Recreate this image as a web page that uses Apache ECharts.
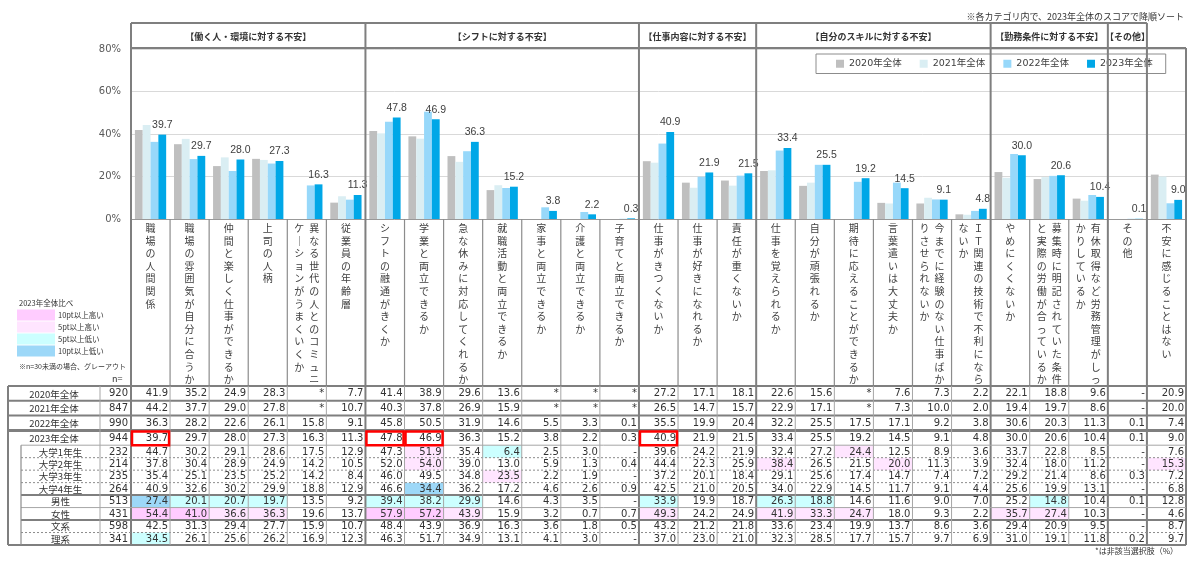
<!DOCTYPE html>
<html><head><meta charset="utf-8">
<script src="https://cdn.jsdelivr.net/npm/echarts@6/dist/echarts.min.js"></script>
<style>html,body{margin:0;padding:0;background:#fff}#c{width:1200px;height:564px}</style>
</head><body><div id="c"></div><script>
// ---------- data ----------
const categories = ['職場の人間関係','職場の雰囲気が自分に合うか','仲間と楽しく仕事ができるか','上司の人柄','異なる世代の人とのコミュニケーションがうまくいくか','従業員の年齢層','シフトの融通がきくか','学業と両立できるか','急な休みに対応してくれるか','就職活動と両立できるか','家事と両立できるか','介護と両立できるか','子育てと両立できるか','仕事がきつくないか','仕事が好きになれるか','責任が重くないか','仕事を覚えられるか','自分が頑張れるか','期待に応えることができるか','言葉遣いは大丈夫か','今までに経験のない仕事ばかりさせられないか','ＩＴ関連の技術で不利にならないか','やめにくくないか','募集時に明記されていた条件と実際の労働が合っているか','有休取得など労務管理がしっかりしているか','その他','不安に感じることはない'];
const groupNames = ['【働く人・環境に対する不安】','【シフトに対する不安】','【仕事内容に対する不安】','【自分のスキルに対する不安】','【勤務条件に対する不安】','【その他】'];
const groupSizes = [6,7,3,6,3,1];
const seriesNames = ['2020年全体','2021年全体','2022年全体','2023年全体'];
const yTicks = [0,20,40,60,80];

const v2020 = ['41.9','35.2','24.9','28.3','*','7.7','41.4','38.9','29.6','13.6','*','*','*','27.2','17.1','18.1','22.6','15.6','*','7.6','7.3','2.2','22.1','18.8','9.6','-','20.9'];
const v2021 = ['44.2','37.7','29.0','27.8','*','10.7','40.3','37.8','26.9','15.9','*','*','*','26.5','14.7','15.7','22.9','17.1','*','7.3','10.0','2.0','19.4','19.7','8.6','-','20.0'];
const v2022 = ['36.3','28.2','22.6','26.1','15.8','9.1','45.8','50.5','31.9','14.6','5.5','3.3','0.1','35.5','19.9','20.4','32.2','25.5','17.5','17.1','9.2','3.8','30.6','20.3','11.3','0.1','7.4'];
const v2023 = ['39.7','29.7','28.0','27.3','16.3','11.3','47.8','46.9','36.3','15.2','3.8','2.2','0.3','40.9','21.9','21.5','33.4','25.5','19.2','14.5','9.1','4.8','30.0','20.6','10.4','0.1','9.0'];
const vY1 = ['44.7','30.2','29.1','28.6','17.5','12.9','47.3','51.9','35.4','6.4','2.5','3.0','-','39.6','24.2','21.9','32.4','27.2','24.4','12.5','8.9','3.6','33.7','22.8','8.5','-','7.6'];
const vY2 = ['37.8','30.4','28.9','24.9','14.2','10.5','52.0','54.0','39.0','13.0','5.9','1.3','0.4','44.4','22.3','25.9','38.4','26.5','21.5','20.0','11.3','3.9','32.4','18.0','11.2','-','15.3'];
const vY3 = ['35.4','25.1','23.5','25.2','14.2','8.4','46.0','49.5','34.8','23.5','2.2','1.9','-','37.2','20.1','18.4','29.1','25.6','17.4','14.7','7.4','7.2','29.2','21.4','8.6','0.3','7.2'];
const vY4 = ['40.9','32.6','30.2','29.9','18.8','12.9','46.6','34.4','36.2','17.2','4.6','2.6','0.9','42.5','21.0','20.5','34.0','22.9','14.5','11.7','9.1','4.4','25.6','19.9','13.1','-','6.8'];
const vMale = ['27.4','20.1','20.7','19.7','13.5','9.2','39.4','38.2','29.9','14.6','4.3','3.5','-','33.9','19.9','18.7','26.3','18.8','14.6','11.6','9.0','7.0','25.2','14.8','10.4','0.1','12.8'];
const vFemale = ['54.4','41.0','36.6','36.3','19.6','13.7','57.9','57.2','43.9','15.9','3.2','0.7','0.7','49.3','24.2','24.9','41.9','33.3','24.7','18.0','9.3','2.2','35.7','27.4','10.3','-','4.6'];
const vBun = ['42.5','31.3','29.4','27.7','15.9','10.7','48.4','43.9','36.9','16.3','3.6','1.8','0.5','43.2','21.2','21.8','33.6','23.4','19.9','13.7','8.6','3.6','29.4','20.9','9.5','-','8.7'];
const vRi = ['34.5','26.1','25.6','26.2','16.9','12.3','46.3','51.7','34.9','13.1','4.1','3.0','-','37.0','23.0','21.0','32.3','28.5','17.7','15.7','9.7','6.9','31.0','19.1','11.8','0.2','9.7'];

const rowLabels = ['2020年全体','2021年全体','2022年全体','2023年全体','大学1年生','大学2年生','大学3年生','大学4年生','男性','女性','文系','理系'];
const rowN = [920,847,990,944,232,214,235,264,513,431,598,341];
const rowValues = [v2020,v2021,v2022,v2023,vY1,vY2,vY3,vY4,vMale,vFemale,vBun,vRi];
// [row, column, level]  level: 2=10pt以上高い 1=5pt以上高い -1=5pt以上低い -2=10pt以上低い
const highlights = [
 [4,7,1],[4,9,-1],[4,18,1],
 [5,7,1],[5,16,1],[5,19,1],[5,26,1],
 [6,9,1],
 [7,7,-2],
 [8,0,-2],[8,1,-1],[8,2,-1],[8,3,-1],[8,6,-1],[8,7,-1],[8,8,-1],[8,13,-1],[8,16,-1],[8,17,-1],[8,23,-1],
 [9,0,2],[9,1,2],[9,2,1],[9,3,1],[9,6,2],[9,7,2],[9,8,1],[9,13,1],[9,16,1],[9,17,1],[9,18,1],[9,22,1],[9,23,1],
 [11,0,-1]
];
const redBoxRow = 3;
const redBoxCols = [0,6,7,13];

// ---------- layout / style ----------
const Y = {headerTop:23, plotTop:49, plotBottom:219, tableTop:386, tableBottom:545};
const GL = 131, GR = 14;
const barColors = ['#BFBFBF','#DAEEF3','#97D8FA','#00A7E7'];
const hiColors = {'2':'#FFCCFF','1':'#FFE5FF','-1':'#CCFFFF','-2':'#9DD8F8'};
const JP = '"Noto Sans CJK JP"';
const NUM = '"DejaVu Sans"';
const toNum = a => a.map(s => isNaN(parseFloat(s)) ? null : parseFloat(s));

const rowH = rowLabels.map((_, i) => i < 4 ? 14.8 : 12.475);
const rowEdges = [0];
rowH.forEach(h => rowEdges.push(rowEdges[rowEdges.length-1] + h));
const tableTotal = rowEdges[rowEdges.length-1];

const bounds = [0];
groupSizes.forEach(s => bounds.push(bounds[bounds.length-1] + s));

function vLabel(val) {
  const s = Array.from(val).map(ch => ch === 'ー' ? '｜' : ch);
  if (s.length <= 13) return s.join('\n');
  const a = s.slice(0, 13), b = s.slice(13);
  return a.map((ch, i) => (b[i] || '　') + '\u2002' + ch).join('\n');
}

const thickSt = {stroke:'#7F7F7F', lineWidth:2};
const thinSt = {stroke:'#A6A6A6', lineWidth:1};
const midSt = {stroke:'#8C8C8C', lineWidth:1.2};
function ln(x1,y1,x2,y2,st){ return {type:'line', shape:{x1,y1,x2,y2}, style:Object.assign({fill:null}, st), silent:true}; }

function renderFrame(params, api) {
  const w = api.size([1, 0])[0];
  const L = i => api.coord([i, 0])[0] - w / 2;
  const els = [];
  const xr = L(27);
  els.push(ln(L(0), Y.headerTop, L(bounds[bounds.length-1]), Y.headerTop, thickSt));
  els.push(ln(L(0), Y.plotTop - 1, xr, Y.plotTop - 1, thickSt));
  bounds.forEach(b => els.push(ln(L(b), Y.headerTop, L(b), Y.tableBottom, thickSt)));
  els.push(ln(xr, Y.plotTop - 1, xr, Y.tableBottom, thickSt));
  for (let i = 1; i < 27; i++) {
    if (bounds.indexOf(i) >= 0) continue;
    els.push(ln(L(i), Y.plotBottom, L(i), Y.tableTop, midSt));
  }
  groupNames.forEach((g, k) => {
    els.push({type:'text', silent:true, style:{text:g, x:(L(bounds[k]) + L(bounds[k+1]))/2, y:(Y.headerTop + Y.plotTop)/2 + 1,
      align:'center', verticalAlign:'middle', font:'bold 9px ' + JP, fill:'#333'}});
  });
  return {type:'group', children:els};
}

function renderRow(params, api) {
  const r = params.dataIndex;
  const w = api.size([1, 0])[0];
  const L = i => api.coord([i, 0])[0] - w / 2;
  const yT = api.coord([0, rowEdges[r]])[1], yB = api.coord([0, rowEdges[r+1]])[1];
  const yc = (yT + yB) / 2 + 0.5;
  const x0 = L(0);
  const els = [];
  highlights.filter(h => h[0] === r).forEach(h => {
    els.push({type:'rect', silent:true, shape:{x:L(h[1]), y:yT, width:w, height:yB - yT}, style:{fill:hiColors[String(h[2])]}});
  });
  rowValues[r].forEach((s, c) => {
    els.push({type:'text', silent:true, style:{text:s, x:L(c+1) - 2, y:yc, align:'right', verticalAlign:'middle', font:'10px ' + NUM, fill:'#333'}});
  });
  const lx0 = r < 4 ? x0 - 123 : x0 - 110, lx1 = x0 - 31;
  els.push({type:'text', silent:true, style:{text:rowLabels[r], x:(lx0 + lx1)/2, y:yc, align:'center', verticalAlign:'middle', font:'9.5px ' + JP, fill:'#333'}});
  els.push({type:'text', silent:true, style:{text:String(rowN[r]), x:x0 - 3, y:yc, align:'right', verticalAlign:'middle', font:'10px ' + NUM, fill:'#333'}});
  return {type:'group', children:els};
}

function renderTableFrame(params, api) {
  const w = api.size([1, 0])[0];
  const L = i => api.coord([i, 0])[0] - w / 2;
  const Yr = k => api.coord([0, rowEdges[k]])[1];
  const x0 = L(0), xr = L(27);
  const xO = x0 - 123, xS = x0 - 110, xN = x0 - 31;
  const els = [];
  const dotted = {stroke:'#8C8C8C', lineWidth:1, lineDash:[2,2]};
  const hStyles = ['T','T','T','D3','t','d','d','d','T','t','T','d','T'];
  hStyles.forEach((t, k) => {
    const y = Yr(k);
    const xs = (k <= 3 || k === 12) ? xO : xS;
    let st = thickSt;
    if (t === 'D3') st = {stroke:'#7F7F7F', lineWidth:3};
    if (t === 't') st = thinSt;
    if (t === 'd') st = dotted;
    els.push(ln(xs, y, xr, y, st));
  });
  els.push(ln(xO, Yr(0), xO, Yr(12), thickSt));
  els.push(ln(xS, Yr(4), xS, Yr(12), midSt));
  els.push(ln(xN, Yr(0), xN, Yr(12), thinSt));
  for (let i = 1; i < 27; i++) {
    if (bounds.indexOf(i) >= 0) continue;
    els.push(ln(L(i), Yr(0), L(i), Yr(12), thinSt));
  }
  redBoxCols.forEach(c => {
    const yT = Yr(redBoxRow), yB = Yr(redBoxRow + 1);
    els.push({type:'rect', silent:true, shape:{x:L(c) + 1, y:yT + 1, width:w - 2, height:yB - yT - 1}, style:{fill:null, stroke:'#FF0000', lineWidth:2.5}});
  });
  return {type:'group', children:els};
}

const chart = echarts.init(document.getElementById('c'), null, {renderer:'canvas'});
const barSeries = [v2020, v2021, v2022, v2023].map((arr, i) => ({
  name: seriesNames[i], type:'bar', xAxisIndex:0, yAxisIndex:0, data: toNum(arr),
  barGap:'0%', barCategoryGap:'20%', itemStyle:{color:barColors[i]},
  label: i === 3 ? {show:true, position:'top', distance:4, formatter:p => p.value.toFixed(1), fontSize:10.5, fontFamily:'Liberation Sans', color:'#404040'} : {show:false}
}));

const swatchY = [309.5, 321.5, 333.5, 345.5];
const swatchText = ['10pt以上高い','5pt以上高い','5pt以上低い','10pt以上低い'];
const swatchCol = [hiColors['2'], hiColors['1'], hiColors['-1'], hiColors['-2']];
const graphics = [
  {type:'text', x:1184, y:17, style:{text:'※各カテゴリ内で、2023年全体のスコアで降順ソート', align:'right', verticalAlign:'middle', font:'9px ' + JP, fill:'#333'}},
  {type:'text', x:1178, y:551, style:{text:'*は非該当選択肢（%）', align:'right', verticalAlign:'middle', font:'8px ' + JP, fill:'#333'}},
  {type:'text', x:19, y:303, style:{text:'2023年全体比べ', align:'left', verticalAlign:'middle', font:'7.5px ' + JP, fill:'#333'}},
  {type:'text', x:19, y:366, style:{text:'※n=30未満の場合、グレーアウト', align:'left', verticalAlign:'middle', font:'7px ' + JP, fill:'#333'}},
  {type:'text', x:112, y:379, style:{text:'n=', align:'left', verticalAlign:'middle', font:'9px ' + JP, fill:'#333'}}
];
swatchY.forEach((y, i) => {
  graphics.push({type:'rect', shape:{x:17, y:y, width:38, height:11}, style:{fill:swatchCol[i]}});
  graphics.push({type:'text', x:58, y:y + 5.5, style:{text:swatchText[i], align:'left', verticalAlign:'middle', font:'7.5px ' + JP, fill:'#333'}});
});

chart.setOption({
  animation:false,
  backgroundColor:'#fff',
  legend:{data:seriesNames, left:816, top:54, itemWidth:8, itemHeight:8, itemGap:18, icon:'rect',
    padding:[5,13,5,20], borderColor:'#8C8C8C', borderWidth:1,
    textStyle:{fontSize:9.5, fontFamily:NUM + ',' + JP, color:'#404040'}},
  grid:[
    {left:GL, right:GR, top:Y.plotTop, height:Y.plotBottom - Y.plotTop},
    {left:GL, right:GR, top:Y.tableTop, height:Y.tableBottom - Y.tableTop}
  ],
  xAxis:[
    {type:'category', gridIndex:0, data:categories, boundaryGap:true,
      axisLine:{show:true, lineStyle:{color:'#999', width:1}}, axisTick:{show:false}, splitLine:{show:false},
      axisLabel:{interval:0, margin:3, formatter:vLabel, fontSize:10, lineHeight:12.6, verticalAlign:'top', align:'center', color:'#404040', fontFamily:'Noto Sans CJK JP'}},
    {type:'category', gridIndex:1, data:categories, show:false, boundaryGap:true}
  ],
  yAxis:[
    {type:'value', gridIndex:0, min:yTicks[0], max:yTicks[yTicks.length-1], interval:20,
      axisLine:{show:false}, axisTick:{show:false},
      axisLabel:{formatter:'{value}%', fontSize:10, color:'#595959', margin:10, fontFamily:'DejaVu Sans'},
      splitLine:{show:true, lineStyle:{color:'#D9D9D9', width:1}}},
    {type:'value', gridIndex:1, min:0, max:tableTotal, inverse:true, show:false, splitLine:{show:false}}
  ],
  graphic:graphics,
  series: barSeries.concat([
    {type:'custom', name:'frame', xAxisIndex:0, yAxisIndex:0, renderItem:renderFrame, data:[[0,0]], silent:true, z:5, clip:false, tooltip:{show:false}},
    {type:'custom', name:'rows', xAxisIndex:1, yAxisIndex:1, renderItem:renderRow, data:rowLabels.map((_, i) => [0, (rowEdges[i] + rowEdges[i+1])/2]), silent:true, z:3, clip:false},
    {type:'custom', name:'tableframe', xAxisIndex:1, yAxisIndex:1, renderItem:renderTableFrame, data:[[0,0]], silent:true, z:6, clip:false}
  ])
});
</script></body></html>
